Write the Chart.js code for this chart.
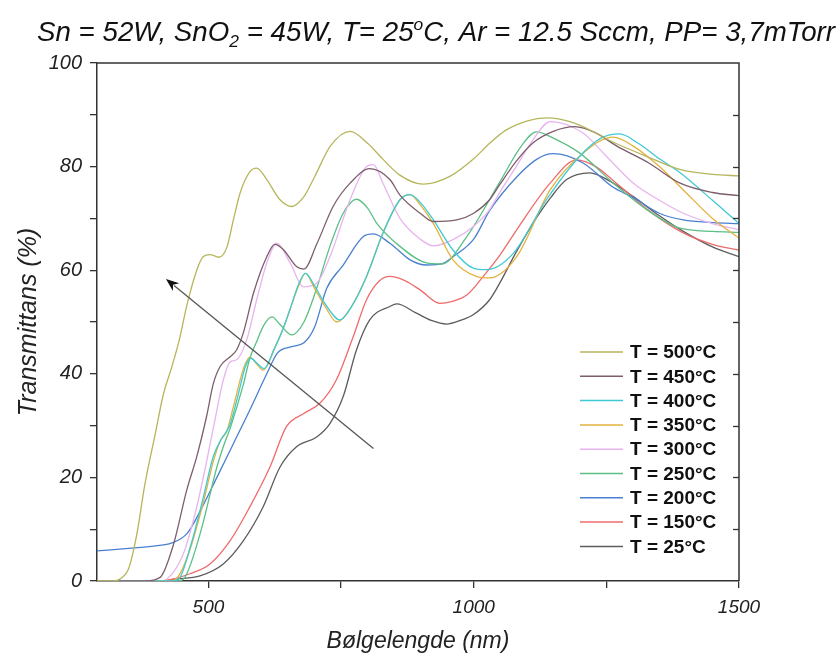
<!DOCTYPE html>
<html>
<head>
<meta charset="utf-8">
<script src="https://cdn.jsdelivr.net/npm/chart.js@4.4.0/dist/chart.umd.min.js"></script>
<style>
  html, body { margin: 0; padding: 0; background: #fff; }
  #wrap { width: 840px; height: 661px; }
</style>
</head>
<body>
<div id="wrap"><canvas id="chart"></canvas></div>
<script>
const FONT = "'Liberation Sans', Arial, sans-serif";

const seriesLabels = ["T = 500°C", "T = 450°C", "T = 400°C", "T = 350°C", "T = 300°C",
                      "T = 250°C", "T = 200°C", "T = 150°C", "T = 25°C"];
const seriesColors = ["#b7b55c", "#7d5e6c", "#3fc9d4", "#e4b23e", "#e8b4ee",
                      "#5bbf86", "#4a80d0", "#ef6b6b", "#5c5c5c"];

// wavelength (nm) and transmittance (%)
const wl500 = [290,320,335,350,365,380,400,415,430,445,460,478,490,503,520,535,547,560,578,591,610,635,657,680,700,730,767,800,830,860,905,955,1000,1030,1060,1100,1137,1190,1263,1330,1390,1450,1500];
const tr500 = [0,0,0.5,2.5,9,18.5,28.5,36,41,46.5,53.5,60,62.6,63,62.5,64.5,69.7,75,79,79.7,77.5,73.6,72.3,74.2,78,84,86.8,84.5,81.3,78.4,76.6,78.1,81.5,84.5,87,88.8,89.4,88.4,84.7,81.8,79.4,78.5,78.2];

const wl450 = [290,380,409,434,459,478,497,509,522,541,553,566,585,610,625,641,666,680,704,735,767,804,842,861,899,924,968,1000,1030,1049,1080,1112,1150,1190,1230,1269,1330,1389,1450,1500];
const tr450 = [0,0,0.7,7,17.5,24,32,38,41.4,43.3,44.6,48,55.6,62.6,65,64,60.7,60.2,65,72.3,76.8,79.6,77.5,74.5,71,69.4,69.7,71,73.6,76.5,81,84.6,86.8,87.7,86.5,84,80.7,76.8,75,74.4];

const wl400 = [290,430,445,467,490,509,525,540,555,570,580,592,605,625,640,654,670,683,700,720,748,770,798,829,861,880,900,924,961,999,1024,1075,1137,1200,1240,1275,1310,1350,1389,1450,1500];
const tr400 = [0,0,0.5,7,16,24,27.5,30,35.5,41.5,43,42,41,45,48.5,52.5,57.3,59.4,57,53.5,50.4,53,58.8,67.2,73.6,74.6,73,69.7,63.9,60.4,60.1,63.3,73.6,82,85.5,86.3,84.5,81.5,78.8,73.5,69];

const wl350 = [290,425,440,465,490,509,522,535,547,566,578,590,603,625,640,654,670,683,700,720,742,760,798,829,861,880,900,924,961,1005,1030,1081,1144,1206,1263,1300,1350,1395,1450,1500];
const tr350 = [0,0,0.5,6,15,23,27,29,33.6,41,43.2,42,40.7,45,48.5,52.5,57,59.4,56.5,53,50,51.5,58.8,67.2,73.6,74.6,72.5,69,62,58.8,58.5,62.6,75.5,82.6,85.7,84,80,75.5,70,66.2];

const wl300 = [290,410,421,453,478,497,516,528,541,553,572,591,610,629,654,679,704,729,767,798,811,829,861,899,924,961,1000,1030,1049,1080,1112,1144,1206,1250,1301,1350,1395,1450,1500];
const tr300 = [0,0,0.3,5.3,14.3,23.3,33,38.8,42.3,42.7,46.5,54.3,61.4,65.2,61.4,56.8,57.5,62.6,73.6,80,80.4,76.8,70,66,64.7,65.9,68.5,71.7,75,80,85.2,88.7,86.5,82,76.8,73.5,71,69,67.8];

const wl250 = [290,440,453,484,516,530,541,566,578,590,605,620,635,657,680,704,729,754,779,800,817,861,911,940,987,1049,1090,1118,1150,1200,1263,1326,1389,1450,1500];
const tr250 = [0,0,0.4,9,22,26.5,29.5,38,43,46,49.5,51,49.5,47.5,50,56.5,64.6,71,73.7,72,69.1,64.6,61.4,61.2,66.5,77,84,86.7,85.5,82.6,76.8,71.7,68.1,67.5,67.3];

const wl200 = [290,350,400,430,460,485,516,547,578,610,630,655,680,700,723,754,792,811,842,880,911,942,961,1000,1030,1081,1120,1150,1206,1263,1301,1350,1395,1450,1500];
const tr200 = [5.8,6.3,6.8,7.3,9.2,13.6,20,26.5,33,40,44,45.2,46,49,56.5,61,66.5,67,65.2,62,61,61.3,62.6,66,71.5,78,81.5,82.5,80.7,76,74,71,69.7,69.2,69];

const wl150 = [290,400,430,465,503,541,578,616,647,679,710,741,773,798,823,842,870,899,936,960,987,1018,1050,1081,1144,1194,1230,1269,1330,1395,1450,1500];
const tr150 = [0,0,0.3,1.4,3.3,7.8,14.3,22,29.8,32.3,34.3,38.8,47.2,54.3,58,58.8,58,56.2,53.6,54,55.2,58.8,63,67.8,76.8,81.3,80,76.8,71.5,67.2,65,63.9];

const wl25 = [290,420,434,484,528,566,603,635,666,704,729,754,779,804,842,855,892,920,949,975,999,1030,1049,1080,1112,1145,1175,1219,1260,1301,1350,1395,1450,1500];
const tr25 = [0,0,0.3,1,3.3,7.8,14.3,22,25.9,27.8,30.4,35.6,44.6,50.4,53,53.5,51.7,50.3,49.6,50.3,51.4,54.3,57.5,63.5,69.1,74,77.5,78.8,77,74.2,70.5,67.5,64.5,62.6];

const wlSets = [wl500, wl450, wl400, wl350, wl300, wl250, wl200, wl150, wl25];
const trSets = [tr500, tr450, tr400, tr350, tr300, tr250, tr200, tr150, tr25];

const xTicks = [500, 750, 1000, 1250, 1500];
const xLabels = [500, 1000, 1500];

// arrow in data units: [wavelength, transmittance]
const arrowFrom = [811, 25.6];
const arrowTo = [420, 58.3];

const datasets = seriesLabels.map((label, i) => ({
  label: label,
  data: wlSets[i].map((x, j) => ({ x: x, y: trSets[i][j] })),
  borderColor: seriesColors[i],
  backgroundColor: seriesColors[i],
  borderWidth: 1.3,
  pointRadius: 0,
  fill: false,
  cubicInterpolationMode: "monotone"
}));

const titlePlugin = {
  id: "titlePlugin",
  afterDraw(chart) {
    const ctx = chart.ctx;
    const parts = [
      { t: "Sn = 52W, SnO" },
      { t: "2", sub: true },
      { t: " = 45W, T= 25" },
      { t: "o", sup: true },
      { t: "C, Ar = 12.5 Sccm, PP= 3,7mTorr" }
    ];
    const size = 27;
    const small = 17;
    ctx.save();
    const widths = parts.map(p => {
      ctx.font = "italic " + (p.sub || p.sup ? small : size) + "px " + FONT;
      return ctx.measureText(p.t).width;
    });
    const total = widths.reduce((a, b) => a + b, 0);
    // fit the line to the width it has in the reference
    const sx = 798 / total;
    ctx.translate(436 - 399, 41);
    ctx.scale(sx, 1);
    let x = 0;
    ctx.fillStyle = "#111";
    ctx.textBaseline = "alphabetic";
    parts.forEach((p, i) => {
      ctx.font = "italic " + (p.sub || p.sup ? small : size) + "px " + FONT;
      let yy = 0;
      if (p.sub) yy = 6;
      if (p.sup) yy = -11;
      ctx.fillText(p.t, x, yy);
      x += widths[i];
    });
    ctx.restore();
  }
};

const framePlugin = {
  id: "framePlugin",
  afterDraw(chart) {
    const { ctx, chartArea: a, scales } = chart;
    ctx.save();
    ctx.strokeStyle = "#333";
    ctx.lineWidth = 1.5;
    ctx.beginPath();
    ctx.moveTo(a.left, a.top);
    ctx.lineTo(a.right, a.top);
    ctx.lineTo(a.right, a.bottom);
    ctx.stroke();
    ctx.lineWidth = 1.3;
    for (let v = 10; v < 100; v += 10) {
      const py = Math.round(scales.y.getPixelForValue(v)) + 0.5;
      ctx.beginPath();
      ctx.moveTo(a.right, py);
      ctx.lineTo(a.right - 6, py);
      ctx.stroke();
    }

    // arrow
    const x1 = scales.x.getPixelForValue(arrowFrom[0]);
    const y1 = scales.y.getPixelForValue(arrowFrom[1]);
    const x2 = scales.x.getPixelForValue(arrowTo[0]);
    const y2 = scales.y.getPixelForValue(arrowTo[1]);
    const ang = Math.atan2(y2 - y1, x2 - x1);
    const headLen = 13, headW = 5;
    ctx.strokeStyle = "#555";
    ctx.lineWidth = 1.3;
    ctx.beginPath();
    ctx.moveTo(x1, y1);
    ctx.lineTo(x2 - Math.cos(ang) * headLen * 0.8, y2 - Math.sin(ang) * headLen * 0.8);
    ctx.stroke();
    ctx.fillStyle = "#111";
    ctx.beginPath();
    ctx.moveTo(x2, y2);
    ctx.lineTo(x2 - Math.cos(ang) * headLen - Math.sin(ang) * headW,
               y2 - Math.sin(ang) * headLen + Math.cos(ang) * headW);
    ctx.lineTo(x2 - Math.cos(ang) * headLen * 0.7, y2 - Math.sin(ang) * headLen * 0.7);
    ctx.lineTo(x2 - Math.cos(ang) * headLen + Math.sin(ang) * headW,
               y2 - Math.sin(ang) * headLen - Math.cos(ang) * headW);
    ctx.closePath();
    ctx.fill();

    // legend inside the plot
    const lx = a.right - 159;
    let ly = a.top + 289;
    ctx.font = "bold 19px " + FONT;
    ctx.textBaseline = "middle";
    chart.data.datasets.forEach(ds => {
      ctx.strokeStyle = ds.borderColor;
      ctx.lineWidth = 1.5;
      ctx.beginPath();
      ctx.moveTo(lx, ly);
      ctx.lineTo(lx + 43, ly);
      ctx.stroke();
      ctx.fillStyle = "#111";
      ctx.fillText(ds.label, lx + 50, ly + 1);
      ly += 24.3;
    });
    ctx.restore();
  }
};

new Chart(document.getElementById("chart"), {
  type: "line",
  data: { datasets: datasets },
  options: {
    responsive: true,
    maintainAspectRatio: false,
    animation: false,
    layout: { padding: { top: 63, right: 101, left: 0, bottom: 0 } },
    plugins: {
      legend: { display: false },
      tooltip: { enabled: false }
    },
    scales: {
      x: {
        type: "linear",
        min: 290,
        max: 1500,
        afterBuildTicks: s => { s.ticks = xTicks.map(v => ({ value: v })); },
        afterFit: s => { s.height = 80; },
        ticks: {
          autoSkip: false,
          maxRotation: 0,
          padding: 8,
          color: "#222",
          font: { family: FONT, size: 19, style: "italic" },
          callback: v => (xLabels.includes(v) ? String(v) : "")
        },
        grid: { drawOnChartArea: false, drawTicks: true, tickLength: 7, color: "#333", lineWidth: 1.3 },
        border: { display: true, color: "#333", width: 1.5 },
        title: {
          display: true,
          text: "Bølgelengde (nm)",
          color: "#222",
          font: { family: FONT, size: 23, style: "italic" },
          padding: { top: 0, bottom: 6 }
        }
      },
      y: {
        min: 0,
        max: 100,
        afterFit: s => { s.width = 97; },
        ticks: {
          stepSize: 10,
          padding: 8,
          color: "#222",
          font: { family: FONT, size: 20, style: "italic" },
          callback: v => (v % 20 === 0 ? String(v) : "")
        },
        grid: { drawOnChartArea: false, drawTicks: true, tickLength: 7, color: "#333", lineWidth: 1.3 },
        border: { display: true, color: "#333", width: 1.5 },
        title: {
          display: true,
          text: "Transmittans (%)",
          color: "#222",
          font: { family: FONT, size: 25, style: "italic" },
          padding: { top: 14, bottom: 0 }
        }
      }
    }
  },
  plugins: [titlePlugin, framePlugin]
});
</script>
</body>
</html>
